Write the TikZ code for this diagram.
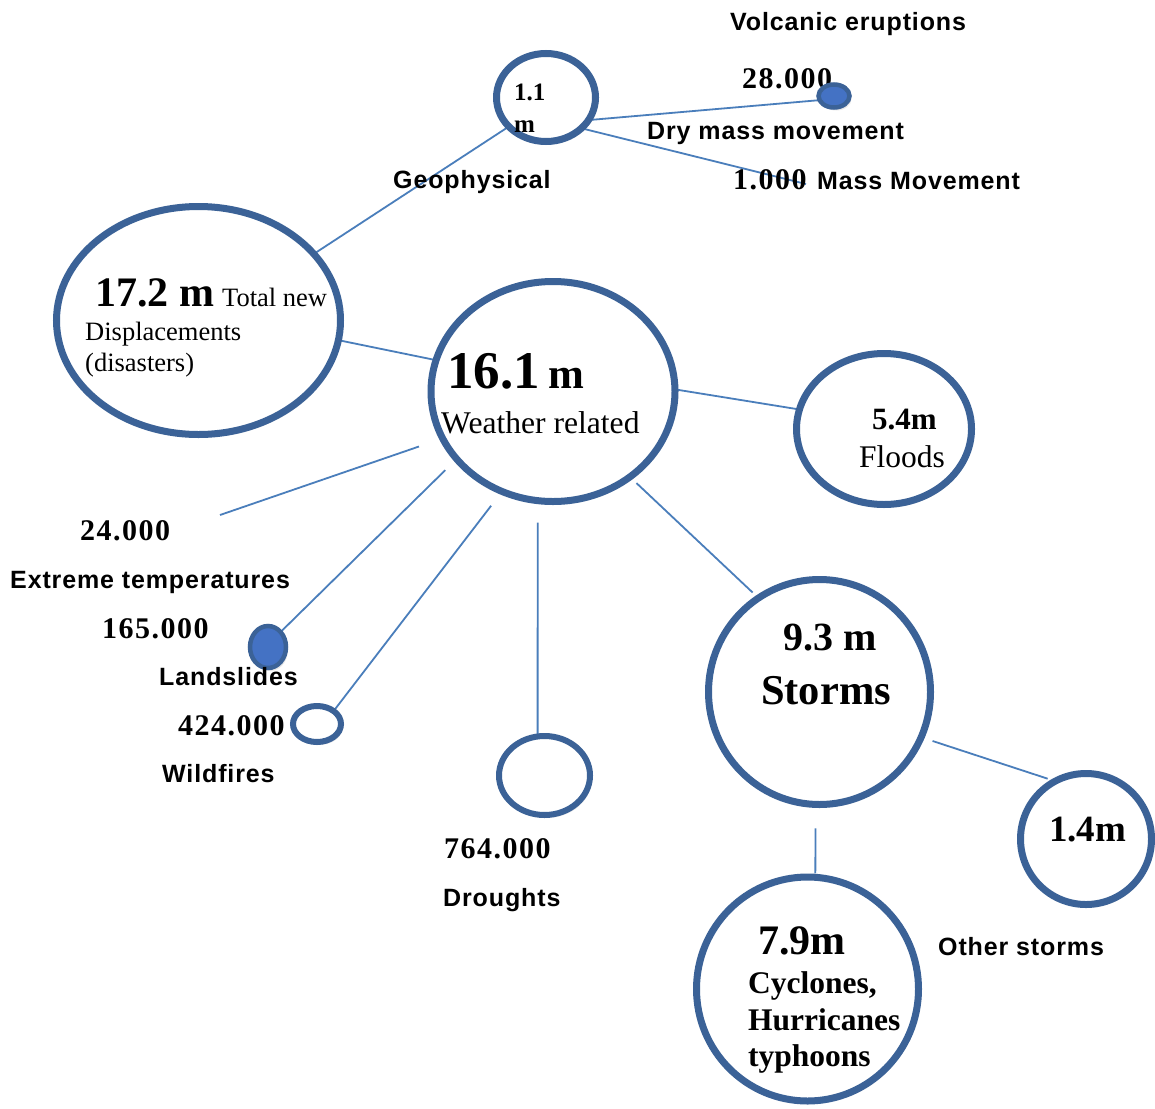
\documentclass[tikz,border=0pt]{standalone}
\usepackage{fontspec}
\setmainfont{Liberation Serif}
\newfontfamily\labsans[LetterSpace=3.5]{Liberation Sans}
\newfontfamily\numserif[LetterSpace=5]{Liberation Serif}
\usetikzlibrary{shapes.geometric,backgrounds,shadows}
\definecolor{ringblue}{HTML}{3B6297}
\definecolor{lineblue}{HTML}{4A7EBB}
\definecolor{dotblue}{HTML}{4472C4}
\tikzset{
  shd/.style={drop shadow={opacity=0.18, shadow xshift=2pt, shadow yshift=-3pt}},
  ring/.style={ellipse, draw=ringblue, line width=7pt, fill=white, inner sep=0pt, outer sep=0pt, shd},
  thinring/.style={ring, line width=6pt},
  blob/.style={ellipse, draw=ringblue, line width=4.5pt, fill=dotblue, inner sep=0pt, outer sep=0pt, shd},
  conn/.style={draw=lineblue, line width=1.8pt},
  lab/.style={anchor=base west, inner sep=0pt, font=\labsans\bfseries\fontsize{25}{28}\selectfont},
  num/.style={anchor=base west, inner sep=0pt, font=\numserif\bfseries\fontsize{30}{34}\selectfont},
  txt/.style={anchor=base west, inner sep=0pt},
}
\newcommand{\fsz}[1]{\fontsize{#1}{#1}\selectfont}
\begin{document}
\begin{tikzpicture}[x=1pt,y=-1pt]
\useasboundingbox (0,0) rectangle (1155,1108);

% text drawn below the volcanic dot
\node[num] (t28) at (742,88) {28.000};

% circles
\node[ring, minimum width=99pt, minimum height=88pt] (geo) at (546,97.5) {};
\node[blob, minimum width=31pt, minimum height=23pt] (volc) at (834,96) {};
\node[ring, minimum width=284pt, minimum height=228pt] (total) at (198.5,320.5) {};
\node[ring, minimum width=244pt, minimum height=220pt] (wr) at (553,391.5) {};
\node[ring, minimum width=175pt, minimum height=151pt] (floods) at (884,429) {};
\node[blob, minimum width=36pt, minimum height=42pt] (land) at (268,647) {};
\node[thinring, minimum width=48pt, minimum height=36pt] (wild) at (317,724) {};
\node[thinring, minimum width=91pt, minimum height=79pt] (drought) at (544.5,775.5) {};
\node[ring, minimum width=222pt, minimum height=225pt] (storms) at (819.5,692) {};
\node[ring, minimum width=131pt, minimum height=131pt] (other) at (1086,839) {};
\node[ring, minimum width=222pt, minimum height=224pt] (cyc) at (807.5,989) {};

\coordinate (massend) at (806,184);
\coordinate (extend) at (220,515);

% connectors
\begin{scope}[on background layer]
  \fill[white] (0,0) rectangle (1155,1108);
  \draw[conn] (geo.-28) -- (volc.196);
  \draw[conn] (geo.-41) -- (massend);
  \draw[conn] (geo.218) -- (total.30);
  \draw[conn] (total.-8) -- (wr.165);
  \draw[conn] (wr.1) -- (floods.167);
  \draw[conn, shorten <=25pt] (wr.203.6) -- (extend);
  \draw[conn, shorten <=16pt] (wr.215) -- (land.50);
  \draw[conn, shorten <=18pt] (wr.243) -- (wild.38);
  \draw[conn, shorten <=22pt] (wr.262) -- (drought.100);
  \draw[conn, shorten <=9pt, shorten >=8pt] (wr.-48.6) -- (storms.123);
  \draw[conn, shorten <=12pt, shorten >=8pt] (storms.-24) -- (other.118);
  \draw[conn, shorten <=24pt, shorten >=4pt] (storms.268) -- (cyc.86);
\end{scope}

% labels
\node[lab] (tvolc) at (730,31) {Volcanic eruptions};
\node[lab] (tdry) at (647,139) {Dry mass movement};
\node[num] (t1000) at (733,189) {1.000};
\node[lab] (tmass) at (817,189) {Mass Movement};
\node[lab] (tgeo) at (393,188) {Geophysical};
\node[txt, font=\bfseries\fsz{25}] (t11) at (514,100) {1.1};
\node[txt, font=\bfseries\fsz{25}] (t11m) at (514,132) {m};

\node[txt, font=\bfseries\fsz{42}] (t172) at (95,306) {17.2 m};
\node[txt, font=\fsz{26.5}] (ttotal) at (222,306) {Total new};
\node[txt, font=\fsz{26.5}] (tdisp) at (85,340) {Displacements};
\node[txt, font=\fsz{26.5}] (tdis) at (85,371) {(disasters)};

\node[txt, font=\bfseries\fsz{53}] (t161) at (447,388) {16.1};
\node[txt, font=\bfseries\fsz{43}] (t161m) at (548,388) {m};
\node[txt, font=\fsz{31.6}] (twr) at (441,433) {Weather related};

\node[txt, font=\bfseries\fsz{31}] (t54) at (872,429) {5.4m};
\node[txt, font=\fsz{31.5}] (tfl) at (859,467) {Floods};

\node[num] (t24) at (80,540) {24.000};
\node[lab] (text) at (10,588) {Extreme temperatures};
\node[num] (t165) at (102,638) {165.000};
\node[lab] (tland) at (159,685) {Landslides};
\node[num] (t424) at (178,735) {424.000};
\node[lab] (twild) at (162,782) {Wildfires};
\node[num] (t764) at (444,858) {764.000};
\node[lab] (tdrought) at (443,906) {Droughts};

\node[txt, font=\bfseries\fsz{40}] (t93) at (783,650) {9.3 m};
\node[txt, font=\bfseries\fsz{42.5}] (tstorms) at (761,704) {Storms};
\node[txt, font=\bfseries\fsz{37}] (t14) at (1049,841) {1.4m};
\node[lab] (tother) at (938,955) {Other storms};
\node[txt, font=\bfseries\fsz{42}] (t79) at (758,954) {7.9m};
\node[txt, font=\bfseries\fsz{31.5}] (tcyc) at (748,993) {Cyclones,};
\node[txt, font=\bfseries\fsz{31.5}] (thur) at (748,1030) {Hurricanes};
\node[txt, font=\bfseries\fsz{31.5}] (ttyp) at (748,1066) {typhoons};
\end{tikzpicture}
\end{document}
